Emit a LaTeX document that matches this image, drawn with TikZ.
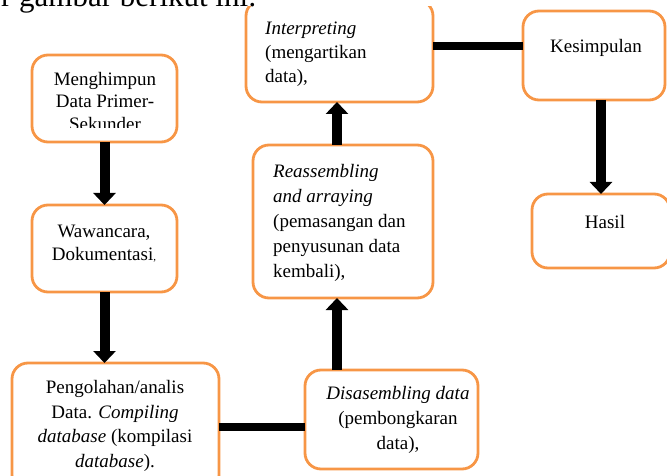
\documentclass[tikz,border=0pt]{standalone}
\usepackage{fontspec}
\setmainfont{Liberation Serif}
\usetikzlibrary{arrows.meta}
\definecolor{boxorange}{HTML}{F79646}
\begin{document}
\begin{tikzpicture}[x=1pt,y=-1pt,
  every node/.style={font=\fontsize{19}{24.5}\selectfont},
  box/.style={draw=boxorange, line width=2.8pt, rounded corners=16pt, inner sep=0pt, outer sep=0pt},
  txt/.style={inner sep=0pt, anchor=base},
  arr/.style={line width=10pt, -{Triangle[width=22pt,length=12pt]}},
  ln/.style={line width=8pt}]
\useasboundingbox (0,0) rectangle (667,476);
% cut-off heading line
\node[txt, anchor=base east, font=\fontsize{31}{36}\selectfont] (head) at (257,7) {r gambar berikut ini:};
% boxes
\node[box, minimum width=145pt, minimum height=87pt] (M) at (104.5,98.5) {};
\node[box, minimum width=145pt, minimum height=87pt] (W) at (104.5,248.5) {};
\node[box, minimum width=207pt, minimum height=128pt] (P) at (115.5,427) {};
\node[box, minimum width=173pt, minimum height=99pt] (D) at (391.5,419.5) {};
\node[box, minimum width=180pt, minimum height=153pt] (R) at (343,221.5) {};
\begin{scope}
  \clip (230,7) rectangle (450,120);
  \node[box, minimum width=187pt, minimum height=102pt] (I) at (339.5,51) {};
\end{scope}
\node[box, minimum width=142pt, minimum height=89pt] (K) at (594,55.5) {};
\node[box, minimum width=138pt, minimum height=74pt] (H) at (601,231) {};
% texts (base anchor = baseline of the last line)
\begin{scope}
  \clip (32,55) rectangle (177,127.5);
  \node[txt, align=center, font=\fontsize{19}{22.5}\selectfont] (tM) at (105,130.5) {Menghimpun\\Data Primer-\\Sekunder};
\end{scope}
\node[txt, align=center, font=\fontsize{19}{23}\selectfont] (tW) at (104,260) {Wawancara,\\Dokumentasi{\fontsize{11}{12}\selectfont,}};
\node[txt, align=center] (tP) at (115,467) {Pengolahan/analis\\Data. \textit{Compiling}\\\textit{database} (kompilasi\\\textit{database}).};
\node[txt, align=center, font=\fontsize{19}{25}\selectfont] (tD) at (398,449) {\textit{Disasembling data}\\(pembongkaran\\data),};
\node[txt, anchor=base west, align=left, font=\fontsize{19}{25}\selectfont] (tR) at (273,277) {\textit{Reassembling}\\\textit{and arraying}\\(pemasangan dan\\penyusunan data\\kembali),};
\node[txt, anchor=base west, align=left, font=\fontsize{19}{24}\selectfont] (tI) at (265,83) {\textit{Interpreting}\\(mengartikan\\data),};
\node[txt] (tK) at (596,53) {Kesimpulan};
\node[txt] (tH) at (605,228) {Hasil};
% connectors
\draw[arr] (M.south) -- (W.north);
\draw[arr] (W.south) -- (W.south |- P.north);
\draw[ln] (P.east) -- (P.east -| D.west);
\draw[arr] ([xshift=-6pt]R.south |- D.north) -- ([xshift=-6pt]R.south);
\draw[arr] ([xshift=-6pt]R.north) -- ([xshift=-6pt]R.north |- I.south);
\draw[ln] ([yshift=4.5pt]I.east) -- ([yshift=4.5pt]I.east -| K.west);
\draw[arr] (H.north |- K.south) -- (H.north);
\end{tikzpicture}
\end{document}
